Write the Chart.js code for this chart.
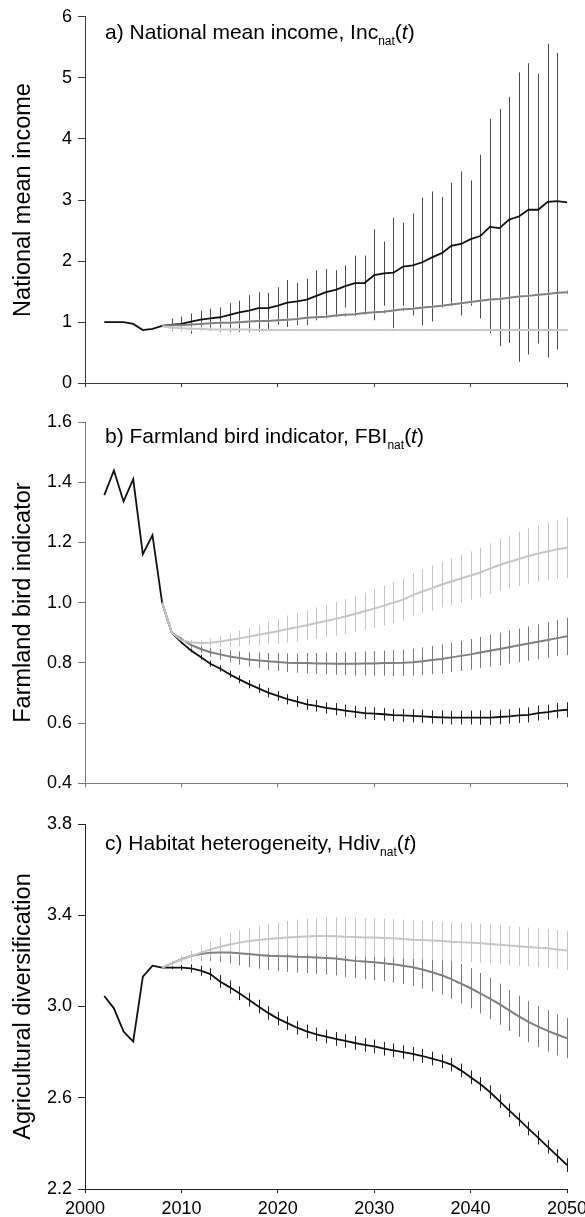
<!DOCTYPE html>
<html><head><meta charset="utf-8">
<script src="https://cdn.jsdelivr.net/npm/chart.js@4.4.1/dist/chart.umd.min.js"></script>
<style>
html,body{margin:0;padding:0;background:#fff;width:585px;height:1217px;overflow:hidden;}
canvas{position:absolute;left:0;}
</style></head><body>
<canvas id="ca" width="600" height="400" style="top:0px"></canvas>
<canvas id="cb" width="600" height="400" style="top:400px"></canvas>
<canvas id="cc" width="600" height="417" style="top:800px"></canvas>
<script>
// ---------- categories ----------
const YEARS = [2002,2003,2004,2005,2006,2007,2008,2009,2010,2011,2012,2013,2014,2015,2016,2017,2018,2019,2020,2021,2022,2023,2024,2025,2026,2027,2028,2029,2030,2031,2032,2033,2034,2035,2036,2037,2038,2039,2040,2041,2042,2043,2044,2045,2046,2047,2048,2049,2050];
const SCEN_YEARS = [2008,2009,2010,2011,2012,2013,2014,2015,2016,2017,2018,2019,2020,2021,2022,2023,2024,2025,2026,2027,2028,2029,2030,2031,2032,2033,2034,2035,2036,2037,2038,2039,2040,2041,2042,2043,2044,2045,2046,2047,2048,2049,2050];
const X_TICKS = [2000,2010,2020,2030,2040,2050];
const X_LABELS = ['2000','2010','2020','2030','2040','2050'];

// ---------- panel a: national mean income ----------
const Y_TICKS_A = [0,1,2,3,4,5,6];
const Y_LABELS_A = ['0','1','2','3','4','5','6'];
const INC_BLACK = [1.00,1.00,1.00,0.97,0.87,0.89,0.94,0.96,0.97,1.01,1.04,1.06,1.08,1.12,1.16,1.19,1.23,1.23,1.27,1.32,1.34,1.37,1.43,1.49,1.53,1.59,1.64,1.64,1.77,1.80,1.81,1.91,1.93,1.98,2.06,2.13,2.25,2.28,2.36,2.41,2.56,2.54,2.68,2.73,2.84,2.84,2.97,2.98,2.96];
const INC_BLACK_HI = [null,1.06,1.09,1.14,1.19,1.22,1.24,1.31,1.35,1.44,1.49,1.48,1.57,1.69,1.64,1.71,1.85,1.87,1.85,1.93,2.09,2.09,2.52,2.32,2.71,2.63,2.78,3.04,3.14,3.05,3.28,3.47,3.32,3.74,4.33,4.49,4.69,5.09,5.24,5.07,5.56,5.41,null];
const INC_BLACK_LO = [null,0.85,0.85,0.81,0.87,0.87,0.84,0.84,0.84,0.84,0.84,0.87,0.95,0.92,0.95,0.95,1.03,1.11,1.11,1.24,1.13,1.16,1.03,1.27,0.90,1.27,1.11,0.95,1.01,1.24,1.30,1.11,1.27,1.06,0.82,0.61,0.66,0.35,0.47,0.65,0.42,0.55,null];
const INC_DGRAY = [0.94,0.95,0.95,0.96,0.97,0.98,0.99,0.99,1.00,1.01,1.02,1.02,1.03,1.04,1.05,1.07,1.08,1.09,1.11,1.12,1.13,1.15,1.16,1.17,1.19,1.21,1.22,1.24,1.25,1.27,1.29,1.31,1.33,1.35,1.37,1.38,1.40,1.42,1.43,1.45,1.46,1.48,1.49];
const INC_DGRAY_ERR = [0,0.03,0.03,0.03,0.03,0.03,0.03,0.03,0.03,0.03,0.03,0.03,0.03,0.03,0.03,0.03,0.03,0.03,0.03,0.03,0.03,0.03,0.03,0.03,0.03,0.03,0.03,0.03,0.03,0.03,0.03,0.03,0.03,0.03,0.03,0.03,0.03,0.03,0.03,0.03,0.03,0.03,0.03];
const INC_LGRAY = [0.93,0.91,0.90,0.89,0.89,0.88,0.88,0.88,0.88,0.88,0.87,0.87,0.87,0.87,0.87,0.87,0.87,0.87,0.87,0.87,0.87,0.87,0.87,0.87,0.87,0.87,0.87,0.87,0.87,0.87,0.87,0.87,0.87,0.87,0.87,0.87,0.87,0.87,0.87,0.87,0.87,0.87,0.87];
const INC_LGRAY_ERR = [0,0.05,0.05,0.04,0.04,0.03,0.03,0.03,0.02,0.02,0.02,0.02,0.02,0.02,0.02,0.02,0.02,0.02,0.02,0.02,0.02,0.02,0.02,0.02,0.02,0.02,0.02,0.02,0.02,0.02,0.02,0.02,0.02,0.02,0.02,0.02,0.02,0.02,0.02,0.02,0.02,0.02,0.02];

// ---------- panel b: farmland bird indicator ----------
const Y_TICKS_B = [0.4,0.6,0.8,1.0,1.2,1.4,1.6];
const Y_LABELS_B = ['0.4','0.6','0.8','1.0','1.2','1.4','1.6'];
const FBI_BLACK = [1.357,1.439,1.336,1.410,1.161,1.224,1.000,0.900,0.868,0.841,0.819,0.797,0.781,0.762,0.745,0.729,0.715,0.701,0.690,0.679,0.671,0.662,0.657,0.650,0.646,0.641,0.637,0.633,0.631,0.629,0.626,0.625,0.624,0.622,0.620,0.619,0.618,0.618,0.618,0.618,0.618,0.620,0.622,0.625,0.627,0.633,0.636,0.641,0.644];
const FBI_BLACK_ERR = [0,0.003,0.005,0.006,0.008,0.010,0.011,0.012,0.013,0.014,0.015,0.016,0.016,0.017,0.018,0.018,0.019,0.019,0.020,0.020,0.020,0.020,0.021,0.021,0.021,0.022,0.022,0.022,0.022,0.023,0.023,0.023,0.023,0.024,0.024,0.024,0.024,0.025,0.025,0.025,0.025,0.025,0.025];
const FBI_DGRAY = [1.000,0.900,0.879,0.859,0.846,0.835,0.828,0.821,0.816,0.811,0.808,0.805,0.803,0.800,0.799,0.799,0.798,0.798,0.797,0.797,0.797,0.798,0.798,0.799,0.799,0.800,0.802,0.805,0.809,0.813,0.818,0.823,0.828,0.834,0.840,0.846,0.852,0.858,0.864,0.870,0.876,0.882,0.888];
const FBI_DGRAY_ERR = [0,0.004,0.006,0.009,0.012,0.015,0.018,0.020,0.022,0.024,0.026,0.028,0.030,0.031,0.032,0.034,0.035,0.036,0.037,0.038,0.039,0.040,0.041,0.042,0.043,0.044,0.045,0.046,0.047,0.048,0.049,0.050,0.051,0.052,0.053,0.054,0.055,0.056,0.057,0.058,0.059,0.060,0.062];
const FBI_LGRAY = [1.000,0.900,0.875,0.868,0.866,0.867,0.871,0.876,0.881,0.887,0.893,0.899,0.905,0.912,0.918,0.925,0.932,0.939,0.946,0.954,0.962,0.971,0.980,0.990,1.000,1.010,1.025,1.037,1.048,1.060,1.070,1.080,1.090,1.100,1.113,1.125,1.135,1.145,1.155,1.163,1.170,1.177,1.182];
const FBI_LGRAY_ERR = [0,0.003,0.005,0.008,0.011,0.014,0.018,0.022,0.026,0.030,0.034,0.038,0.042,0.045,0.048,0.050,0.052,0.054,0.056,0.058,0.060,0.062,0.064,0.066,0.068,0.070,0.071,0.073,0.075,0.076,0.078,0.079,0.080,0.082,0.084,0.086,0.088,0.090,0.092,0.094,0.096,0.098,0.100];

// ---------- panel c: habitat heterogeneity ----------
const Y_TICKS_C = [2.2,2.6,3.0,3.4,3.8];
const Y_LABELS_C = ['2.2','2.6','3.0','3.4','3.8'];
const HDIV_BLACK = [3.046,2.992,2.890,2.846,3.131,3.179,3.170,3.170,3.170,3.167,3.157,3.142,3.110,3.085,3.058,3.030,3.000,2.972,2.947,2.927,2.907,2.891,2.878,2.868,2.858,2.849,2.840,2.832,2.825,2.815,2.808,2.800,2.792,2.783,2.772,2.760,2.745,2.720,2.690,2.660,2.625,2.585,2.545,2.505,2.465,2.425,2.385,2.345,2.305];
const HDIV_BLACK_ERR = [0,0.006,0.012,0.018,0.022,0.026,0.028,0.029,0.030,0.030,0.030,0.030,0.030,0.030,0.030,0.030,0.030,0.030,0.030,0.030,0.030,0.030,0.030,0.030,0.030,0.030,0.030,0.030,0.030,0.030,0.030,0.030,0.030,0.030,0.030,0.030,0.030,0.030,0.030,0.030,0.030,0.030,0.030];
const HDIV_DGRAY = [3.170,3.189,3.207,3.221,3.230,3.236,3.237,3.237,3.233,3.230,3.226,3.223,3.221,3.220,3.218,3.217,3.215,3.213,3.210,3.205,3.200,3.197,3.194,3.190,3.185,3.179,3.172,3.162,3.150,3.137,3.120,3.100,3.080,3.058,3.035,3.010,2.983,2.957,2.933,2.912,2.893,2.876,2.861];
const HDIV_DGRAY_ERR = [0,0.008,0.015,0.022,0.030,0.036,0.042,0.048,0.053,0.057,0.060,0.063,0.066,0.068,0.070,0.071,0.072,0.073,0.074,0.075,0.076,0.077,0.078,0.079,0.080,0.081,0.082,0.083,0.084,0.085,0.086,0.087,0.088,0.089,0.090,0.090,0.090,0.090,0.090,0.090,0.090,0.090,0.088];
const HDIV_LGRAY = [3.170,3.190,3.205,3.220,3.236,3.250,3.262,3.272,3.280,3.287,3.292,3.296,3.299,3.302,3.305,3.307,3.309,3.309,3.308,3.306,3.305,3.303,3.302,3.300,3.299,3.296,3.293,3.291,3.289,3.287,3.284,3.282,3.280,3.277,3.274,3.271,3.267,3.264,3.261,3.258,3.255,3.250,3.245];
const HDIV_LGRAY_ERR = [0,0.008,0.015,0.022,0.030,0.036,0.042,0.048,0.053,0.058,0.062,0.066,0.070,0.073,0.076,0.078,0.080,0.082,0.083,0.084,0.085,0.085,0.085,0.085,0.085,0.085,0.085,0.085,0.085,0.085,0.085,0.085,0.085,0.085,0.085,0.085,0.085,0.085,0.085,0.085,0.085,0.085,0.085];

// ---------- text ----------
const TITLE_A = ['a) National mean income, Inc','nat','(','t',')'];
const TITLE_B = ['b) Farmland bird indicator, FBI','nat','(','t',')'];
const TITLE_C = ['c) Habitat heterogeneity, Hdiv','nat','(','t',')'];
const YTITLE_A = 'National mean income';
const YTITLE_B = 'Farmland bird indicator';
const YTITLE_C = 'Agricultural diversification';

// ---------- helpers ----------
const FONT = '"Liberation Sans", Arial, Helvetica, sans-serif';
const COL_BLACK = '#111111', COL_DGRAY = '#808080', COL_LGRAY = '#c6c6c6';

function pts(xs, ys){ return xs.map((x,i)=>({x:x, y:ys[i]})); }
function symBars(xs, ys, err){ return xs.map((x,i)=>({x:x, lo: err[i] ? ys[i]-err[i] : null, hi: err[i] ? ys[i]+err[i] : null})); }
function hlBars(xs, lo, hi){ return xs.map((x,i)=>({x:x, lo: lo[i], hi: hi[i]})); }

const errorBarPlugin = {
  id: 'errbars',
  beforeDatasetsDraw(chart){
    const {ctx} = chart; const xs = chart.scales.x, ys = chart.scales.y;
    ctx.save();
    chart.data.datasets.forEach(ds => {
      if (!ds.bars) return;
      ctx.strokeStyle = ds.barColor; ctx.lineWidth = 1;
      ds.bars.forEach(b => {
        if (b.lo == null || b.hi == null) return;
        const px = Math.round(xs.getPixelForValue(b.x)) + 0.5;
        ctx.beginPath();
        ctx.moveTo(px, ys.getPixelForValue(b.lo));
        ctx.lineTo(px, ys.getPixelForValue(b.hi));
        ctx.stroke();
      });
    });
    ctx.restore();
  }
};

const titlePlugin = {
  id: 'ptitle',
  afterDraw(chart, args, opts){
    const ctx = chart.ctx; ctx.save();
    ctx.fillStyle = '#000'; ctx.textBaseline = 'alphabetic'; ctx.textAlign = 'left';
    let x = opts.x; const y = opts.y; const p = opts.parts;
    const specs = [
      {t:p[0], f: opts.size+'px '+FONT, dy:0},
      {t:p[1], f: opts.sub+'px '+FONT, dy:6},
      {t:p[2], f: opts.size+'px '+FONT, dy:0},
      {t:p[3], f: 'italic '+opts.size+'px '+FONT, dy:0},
      {t:p[4], f: opts.size+'px '+FONT, dy:0}
    ];
    specs.forEach(s => { ctx.font = s.f; ctx.fillText(s.t, x, y + s.dy); x += ctx.measureText(s.t).width; });
    ctx.restore();
  }
};

function makePanel(id, c){
  return new Chart(document.getElementById(id), {
    type: 'line',
    data: { datasets: c.datasets },
    options: {
      responsive: false, animation: false, devicePixelRatio: 1,
      layout: { padding: { top: c.padTop, right: 33, left: 0, bottom: 0 } },
      plugins: { legend: {display:false}, tooltip: {enabled:false},
        ptitle: { x: 105, y: c.titleY, size: 21, sub: 12, parts: c.title } },
      elements: { point: { radius: 0 }, line: { tension: 0 } },
      scales: {
        x: {
          type: 'linear', min: 2000, max: 2050,
          afterBuildTicks: s => { s.ticks = X_TICKS.map(v => ({value: v})); },
          afterFit: s => { s.height = c.xHeight; },
          border: { display: true, color: c.axisColor, width: 1 },
          grid: { drawOnChartArea: false, drawTicks: true, tickLength: 4, color: c.axisColor },
          ticks: { display: c.showX, padding: 5, color: '#000', maxRotation: 0, autoSkip: false,
                   font: { family: FONT, size: 18 },
                   callback: (v, i) => X_LABELS[i] }
        },
        y: {
          type: 'linear', min: c.yTicks[0], max: c.yTicks[c.yTicks.length-1],
          afterBuildTicks: s => { s.ticks = c.yTicks.map(v => ({value: v})); },
          afterFit: s => { s.width = 85; },
          border: { display: true, color: c.axisColor, width: 1 },
          grid: { drawOnChartArea: false, drawTicks: true, tickLength: 7, color: c.axisColor },
          ticks: { padding: 6, color: '#000', font: { family: FONT, size: 18 },
                   callback: (v, i) => c.yLabels[i] },
          title: { display: true, text: c.yTitle, color: '#000', padding: { top: 9, bottom: 0 },
                   font: { family: FONT, size: 23.5 } }
        }
      }
    },
    plugins: [errorBarPlugin, titlePlugin]
  });
}

makePanel('ca', {
  padTop: 12, xHeight: 12, showX: false, axisColor: '#3c3c3c', titleY: 39,
  title: TITLE_A, yTicks: Y_TICKS_A, yLabels: Y_LABELS_A, yTitle: YTITLE_A,
  datasets: [
    { data: pts(YEARS, INC_BLACK), borderColor: COL_BLACK, borderWidth: 1.8, order: 3,
      bars: hlBars(SCEN_YEARS, INC_BLACK_LO, INC_BLACK_HI), barColor: '#4a4a4a' },
    { data: pts(SCEN_YEARS, INC_DGRAY), borderColor: COL_DGRAY, borderWidth: 2, order: 2,
      bars: symBars(SCEN_YEARS, INC_DGRAY, INC_DGRAY_ERR), barColor: '#8c8c8c' },
    { data: pts(SCEN_YEARS, INC_LGRAY), borderColor: COL_LGRAY, borderWidth: 2, order: 1,
      bars: symBars(SCEN_YEARS, INC_LGRAY, INC_LGRAY_ERR), barColor: '#c8c8c8' }
  ]
});

makePanel('cb', {
  padTop: 22, xHeight: 12, showX: false, axisColor: '#7a7a7a', titleY: 43,
  title: TITLE_B, yTicks: Y_TICKS_B, yLabels: Y_LABELS_B, yTitle: YTITLE_B,
  datasets: [
    { data: pts(YEARS, FBI_BLACK), borderColor: COL_BLACK, borderWidth: 1.8, order: 3,
      bars: symBars(SCEN_YEARS, FBI_BLACK.slice(6), FBI_BLACK_ERR), barColor: '#222222' },
    { data: pts(SCEN_YEARS, FBI_DGRAY), borderColor: COL_DGRAY, borderWidth: 2, order: 2,
      bars: symBars(SCEN_YEARS, FBI_DGRAY, FBI_DGRAY_ERR), barColor: '#7a7a7a' },
    { data: pts(SCEN_YEARS, FBI_LGRAY), borderColor: COL_LGRAY, borderWidth: 2, order: 1,
      bars: symBars(SCEN_YEARS, FBI_LGRAY, FBI_LGRAY_ERR), barColor: '#c4c4c4' }
  ]
});

makePanel('cc', {
  padTop: 24, xHeight: 28, showX: true, axisColor: '#222222', titleY: 50,
  title: TITLE_C, yTicks: Y_TICKS_C, yLabels: Y_LABELS_C, yTitle: YTITLE_C,
  datasets: [
    { data: pts(YEARS, HDIV_BLACK), borderColor: COL_BLACK, borderWidth: 1.8, order: 3,
      bars: symBars(SCEN_YEARS, HDIV_BLACK.slice(6), HDIV_BLACK_ERR), barColor: '#222222' },
    { data: pts(SCEN_YEARS, HDIV_DGRAY), borderColor: COL_DGRAY, borderWidth: 2, order: 2,
      bars: symBars(SCEN_YEARS, HDIV_DGRAY, HDIV_DGRAY_ERR), barColor: '#7a7a7a' },
    { data: pts(SCEN_YEARS, HDIV_LGRAY), borderColor: COL_LGRAY, borderWidth: 2, order: 1,
      bars: symBars(SCEN_YEARS, HDIV_LGRAY, HDIV_LGRAY_ERR), barColor: '#c4c4c4' }
  ]
});
</script>
</body></html>
